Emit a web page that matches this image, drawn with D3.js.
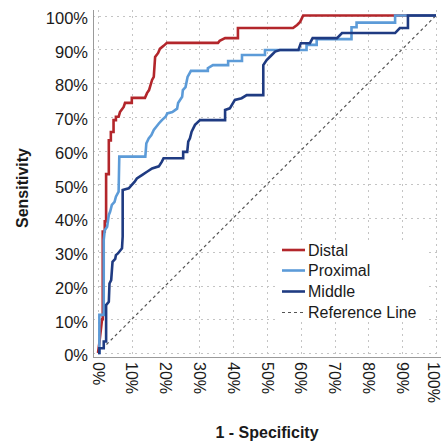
<!DOCTYPE html>
<html>
<head>
<meta charset="utf-8">
<script src="https://cdn.jsdelivr.net/npm/d3@7"></script>
<style>
  html, body { margin: 0; padding: 0; background: #fff; }
  svg { display: block; }
  text { font-family: "Liberation Sans", Arial, sans-serif; fill: #1a1a1a; }
</style>
</head>
<body>
<svg id="chart" width="442" height="441"></svg>
<script>
// ---- data ----
const tickValues = [0, 0.1, 0.2, 0.3, 0.4, 0.5, 0.6, 0.7, 0.8, 0.9, 1];
const tickLabels = ["0%", "10%", "20%", "30%", "40%", "50%", "60%", "70%", "80%", "90%", "100%"];
const seriesNames = ["Distal", "Proximal", "Middle"];
const legendLabels = ["Distal", "Proximal", "Middle", "Reference Line"];
const seriesColors = ["#b3262b", "#5c9bd8", "#1f3b82"];

const distal = [[0,0],[0.004,0.03],[0.012,0.10],[0.014,0.10],[0.014,0.36],[0.020,0.36],[0.020,0.39],[0.024,0.39],[0.024,0.53],[0.032,0.53],[0.032,0.63],[0.038,0.63],[0.038,0.655],[0.046,0.655],[0.046,0.69],[0.053,0.69],[0.053,0.70],[0.061,0.70],[0.065,0.714],[0.076,0.729],[0.080,0.741],[0.100,0.741],[0.100,0.756],[0.139,0.756],[0.145,0.770],[0.151,0.779],[0.160,0.809],[0.165,0.818],[0.169,0.877],[0.178,0.889],[0.183,0.901],[0.194,0.910],[0.204,0.919],[0.355,0.919],[0.360,0.925],[0.376,0.933],[0.414,0.933],[0.414,0.963],[0.577,0.963],[0.589,0.972],[0.598,0.981],[0.607,1.0],[1,1]];

const proximal = [[0,0],[0.004,0.0],[0.004,0.113],[0.017,0.113],[0.017,0.335],[0.020,0.364],[0.027,0.374],[0.032,0.409],[0.036,0.419],[0.041,0.439],[0.049,0.448],[0.053,0.463],[0.061,0.478],[0.063,0.582],[0.140,0.582],[0.143,0.621],[0.150,0.636],[0.158,0.646],[0.165,0.661],[0.180,0.680],[0.189,0.690],[0.200,0.700],[0.205,0.710],[0.220,0.714],[0.234,0.724],[0.237,0.741],[0.249,0.759],[0.251,0.779],[0.259,0.788],[0.265,0.818],[0.275,0.836],[0.325,0.836],[0.325,0.844],[0.340,0.853],[0.385,0.853],[0.385,0.865],[0.426,0.865],[0.426,0.883],[0.494,0.883],[0.494,0.898],[0.617,0.898],[0.617,0.913],[0.647,0.913],[0.647,0.930],[0.750,0.930],[0.750,0.965],[0.765,0.965],[0.765,0.979],[0.879,0.979],[0.879,1.0],[1,1]];

const middle = [[0,0],[0.004,0],[0.004,0.014],[0.017,0.014],[0.017,0.034],[0.024,0.034],[0.024,0.142],[0.032,0.152],[0.034,0.206],[0.039,0.216],[0.043,0.270],[0.051,0.279],[0.053,0.290],[0.059,0.295],[0.071,0.310],[0.073,0.345],[0.073,0.483],[0.091,0.488],[0.100,0.498],[0.108,0.507],[0.115,0.517],[0.130,0.527],[0.145,0.537],[0.160,0.547],[0.180,0.553],[0.189,0.567],[0.194,0.577],[0.252,0.577],[0.252,0.596],[0.264,0.596],[0.267,0.626],[0.272,0.636],[0.277,0.656],[0.287,0.676],[0.302,0.690],[0.376,0.690],[0.376,0.720],[0.390,0.725],[0.405,0.750],[0.425,0.755],[0.440,0.764],[0.489,0.764],[0.489,0.853],[0.499,0.868],[0.514,0.883],[0.524,0.893],[0.538,0.898],[0.593,0.898],[0.600,0.918],[0.627,0.918],[0.635,0.933],[0.707,0.933],[0.722,0.948],[0.879,0.948],[0.893,0.963],[0.917,0.963],[0.917,1.0],[1,1]];

const referenceLine = [[0,0],[1,1]];

// ---- drawing ----
const svg = d3.select("#chart");
const x = d3.scaleLinear().domain([0, 1]).range([98, 436]);
const y = d3.scaleLinear().domain([0, 1]).range([353, 15.5]);
const frameLeft = 93, frameBottom = 357, frameTop = 10, frameRight = 441;

// grid
const grid = svg.append("g").attr("stroke", "#c4c4c4").attr("stroke-width", 1).attr("stroke-dasharray", "2,4");
grid.selectAll("line.h").data(tickValues).join("line").attr("class", "h")
  .attr("x1", frameLeft).attr("x2", frameRight)
  .attr("y1", d => Math.round(y(d)) + 0.5).attr("y2", d => Math.round(y(d)) + 0.5);
grid.selectAll("line.v").data(tickValues).join("line").attr("class", "v")
  .attr("y1", frameTop).attr("y2", frameBottom)
  .attr("x1", d => Math.round(x(d)) + 0.5).attr("x2", d => Math.round(x(d)) + 0.5);

// axis frame lines
svg.append("line").attr("x1", frameLeft + 0.5).attr("x2", frameLeft + 0.5).attr("y1", frameTop).attr("y2", frameBottom + 0.5)
  .attr("stroke", "#9a9a9a").attr("stroke-width", 1);
svg.append("line").attr("x1", frameLeft).attr("x2", frameRight).attr("y1", frameBottom + 0.5).attr("y2", frameBottom + 0.5)
  .attr("stroke", "#9a9a9a").attr("stroke-width", 1);

// y axis labels
const yAxis = d3.axisLeft(y).tickValues(tickValues).tickFormat((d, i) => tickLabels[i]).tickSize(0).tickPadding(0);
const gy = svg.append("g").attr("transform", `translate(88,2.5)`).call(yAxis);
gy.select(".domain").remove();
gy.selectAll("text").attr("font-size", "16.5px").attr("fill", "#1a1a1a")
  .style("font-family", '"Liberation Sans", Arial, sans-serif');

// x axis labels (rotated)
const xAxis = d3.axisBottom(x).tickValues(tickValues).tickFormat((d, i) => tickLabels[i]).tickSize(0).tickPadding(0);
const gx = svg.append("g").attr("transform", `translate(-0.5,${frameBottom + 5})`).call(xAxis);
gx.select(".domain").remove();
gx.selectAll("text")
  .attr("font-size", "16px").attr("fill", "#1a1a1a")
  .style("font-family", '"Liberation Sans", Arial, sans-serif')
  .attr("text-anchor", "start").attr("dy", null).attr("y", 0)
  .attr("dominant-baseline", "central")
  .attr("transform", (d, i) => i === tickValues.length - 1 ? "translate(-2.5,0) rotate(90)" : "rotate(90)");

// reference line
const line = d3.line().x(d => x(d[0])).y(d => y(d[1]));
svg.append("path").datum(referenceLine).attr("d", line)
  .attr("fill", "none").attr("stroke", "#555").attr("stroke-width", 1.2).attr("stroke-dasharray", "3,3");

// ROC curves
const allSeries = [distal, proximal, middle];
svg.append("g").selectAll("path").data(allSeries).join("path")
  .attr("d", line).attr("fill", "none")
  .attr("stroke", (d, i) => seriesColors[i]).attr("stroke-width", 2.6)
  .attr("stroke-linejoin", "miter").attr("stroke-linecap", "butt");

// axis titles
svg.append("text").attr("transform", "translate(22,188) rotate(-90)")
  .attr("text-anchor", "middle").attr("dominant-baseline", "central")
  .attr("font-size", "16px").attr("font-weight", "bold").text("Sensitivity");
svg.append("text").attr("x", 267).attr("y", 432)
  .attr("text-anchor", "middle").attr("dominant-baseline", "central")
  .attr("font-size", "16px").attr("font-weight", "bold").text("1 - Specificity");

// legend
const leg = svg.append("g");
leg.append("rect").attr("x", 279).attr("y", 240).attr("width", 150).attr("height", 82).attr("fill", "#fff");
const legendRowY = [250, 270.5, 291.5, 312.5];
legendLabels.forEach((lab, i) => {
  const ly = legendRowY[i];
  const isRef = i === 3;
  leg.append("line").attr("x1", 282).attr("x2", 305).attr("y1", ly).attr("y2", ly)
    .attr("stroke", isRef ? "#555" : seriesColors[i])
    .attr("stroke-width", isRef ? 1.2 : 2.6)
    .attr("stroke-dasharray", isRef ? "3,3" : null);
  leg.append("text").attr("x", 308).attr("y", ly).attr("dominant-baseline", "central")
    .attr("font-size", "16px").text(lab);
});
</script>
</body>
</html>
